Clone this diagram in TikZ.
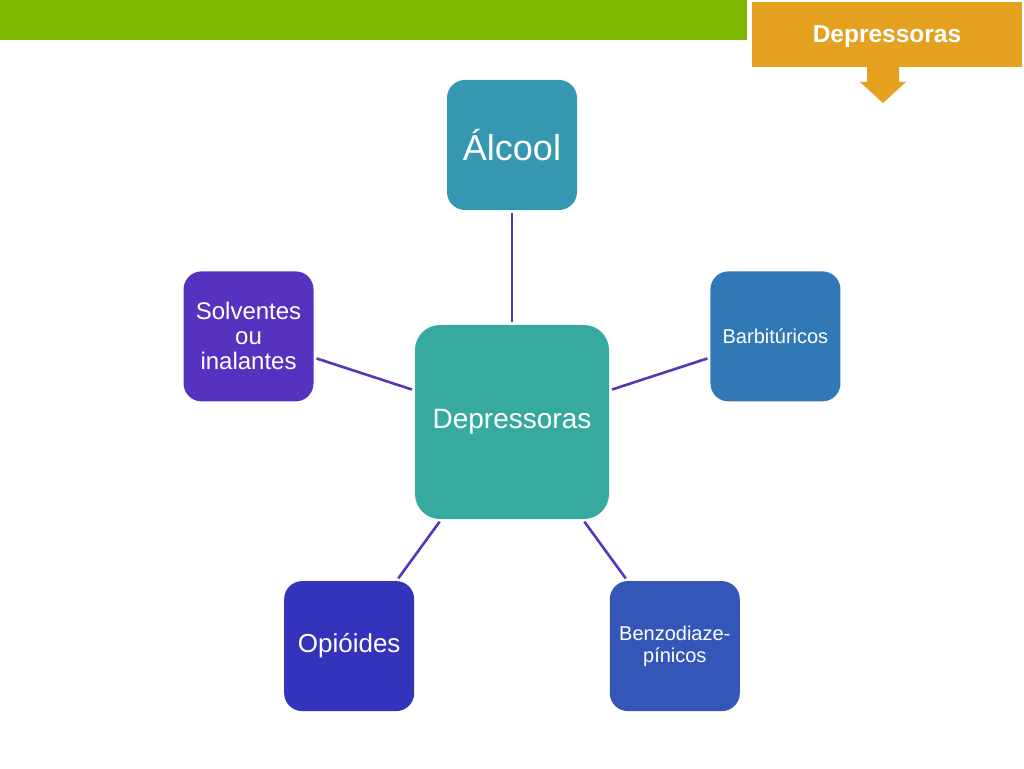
\documentclass[tikz,border=0pt]{standalone}
\usepackage{fontspec}
\setmainfont{Liberation Sans}
\usepackage{tikz}
\usetikzlibrary{positioning}

\definecolor{bargreen}{HTML}{7DB700}
\definecolor{banner}{HTML}{E4A11F}
\definecolor{linkpurple}{HTML}{5A35B5}
\definecolor{ctrteal}{HTML}{37AAA0}
\definecolor{alcteal}{HTML}{3597B0}
\definecolor{barblue}{HTML}{3178B6}
\definecolor{solvpurple}{HTML}{5533C0}
\definecolor{opiblue}{HTML}{3333BB}
\definecolor{benzblue}{HTML}{3356B8}

\tikzset{
  drug/.style={rounded corners=18pt, minimum size=130pt, inner sep=0pt,
    text=white, align=center, text width=124pt},
  link/.style={draw=linkpurple, line width=2.6pt, shorten >=3pt, shorten <=3pt}
}

\begin{document}
\begin{tikzpicture}[x=1pt,y=1pt]
            \useasboundingbox (-512,422) rectangle (512,-346);
            \fill[white] (-512,422) rectangle (512,-346);
            % top bar and banner
            \fill[bargreen] (-512,422) rectangle (235,382);
            \node[fill=banner, minimum width=270pt, minimum height=65pt, inner sep=0pt, text depth=0pt,
                text=white, font=\fontsize{24.5}{27}\selectfont\bfseries] (ban) at (375,387.5) {Depressoras};
            \fill[banner] (355,355) -- (355,340) -- (348,340) -- (371,319)
                -- (394,340) -- (387,340) -- (387,355) -- cycle;
            % centre and the five groups
            \node[rounded corners=25pt, minimum size=194pt, inner sep=0pt, fill=ctrteal,
                text=white, font=\fontsize{28}{32}\selectfont] (dep) at (0,0) {Depressoras};
            \node[drug, fill=alcteal, font=\fontsize{36}{40}\selectfont] (alc) at (90:277) {Álcool};
            \node[drug, fill=barblue, font=\fontsize{20}{22}\selectfont] (bar) at (18:277) {Barbitúricos};
            \node[drug, fill=solvpurple, font=\fontsize{24}{25}\selectfont] (solv) at (162:277) {Solventes\\ou\\inalantes};
            \node[drug, fill=opiblue, font=\fontsize{26}{28}\selectfont] (opi) at (234:277) {Opióides};
            \node[drug, fill=benzblue, font=\fontsize{20}{22}\selectfont] (benz) at (306:277) {Benzodiaze-\\pínicos};
            \foreach \n in {alc,bar,solv,opi,benz}
                \draw[link] (dep) -- (\n);
        \end{tikzpicture}
\end{document}
